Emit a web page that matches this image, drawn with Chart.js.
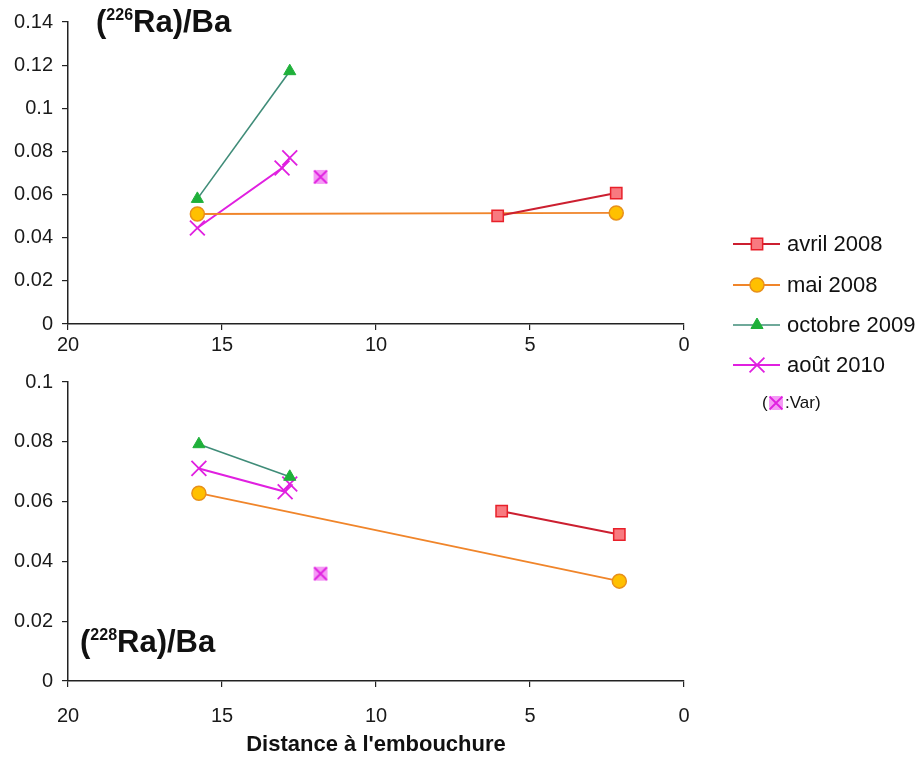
<!DOCTYPE html>
<html>
<head>
<meta charset="utf-8">
<script src="https://cdn.jsdelivr.net/npm/chart.js@4.4.1/dist/chart.umd.min.js"></script>
<style>
  body { margin: 0; background: #fff; width: 920px; height: 758px; position: relative; overflow: hidden;
         font-family: "Liberation Sans", Arial, sans-serif; }
  canvas { position: absolute; left: 0; }
  #topChart { top: 0; }
  #bottomChart { top: 360px; }
  .panel-title { position: absolute; font-weight: bold; font-size: 31px; line-height: 1; color: #111; white-space: nowrap; }
  .panel-title sup { font-size: 16px; vertical-align: top; position: relative; top: 1px; }
</style>
</head>
<body>
<canvas id="topChart" width="920" height="420"></canvas>
<canvas id="bottomChart" width="920" height="398"></canvas>
<div class="panel-title" style="left:96px; top:6px;">(<sup>226</sup>Ra)/Ba</div>
<div class="panel-title" style="left:80px; top:626px;">(<sup>228</sup>Ra)/Ba</div>
<script>
// series labels
const seriesLabels = ['avril 2008', 'mai 2008', 'octobre 2009', 'août 2010'];

// (226Ra)/Ba  -- distance to the mouth (km) and ratio
const ra226AvrilDist = [6.05, 2.2];
const ra226Avril = [0.0501, 0.0607];
const ra226MaiDist = [15.8, 2.2];
const ra226Mai = [0.051, 0.0515];
const ra226OctDist = [15.8, 12.8];
const ra226Oct = [0.058, 0.1172];
const ra226AoutDist = [15.8, 13.05, 12.8];
const ra226Aout = [0.0445, 0.0723, 0.077];
const ra226VarDist = [11.8];
const ra226Var = [0.0682];

// (228Ra)/Ba
const ra228AvrilDist = [5.92, 2.1];
const ra228Avril = [0.0568, 0.049];
const ra228MaiDist = [15.75, 2.1];
const ra228Mai = [0.0628, 0.0334];
const ra228OctDist = [15.75, 12.8];
const ra228Oct = [0.0792, 0.0683];
const ra228AoutDist = [15.75, 12.95, 12.8];
const ra228Aout = [0.0711, 0.0633, 0.0659];
const ra228VarDist = [11.8];
const ra228Var = [0.0359];

// axis ticks
const xTickStep = 5;
const topYMax = 0.14;
const bottomYMax = 0.1;
const yTickStep = 0.02;

const FONT = '"Liberation Sans", Arial, sans-serif';

function toPoints(xs, ys) {
  return xs.map((x, i) => ({ x, y: ys[i] }));
}

function makeVarIcon() {
  const c = document.createElement('canvas');
  c.width = 18;
  c.height = 18;
  const g = c.getContext('2d');
  g.fillStyle = '#f59af5';
  g.beginPath();
  g.roundRect(2, 2, 14, 14, 4);
  g.fill();
  g.strokeStyle = '#e020e0';
  g.lineWidth = 1.8;
  g.beginPath();
  g.moveTo(2.5, 2.5); g.lineTo(15.5, 15.5);
  g.moveTo(15.5, 2.5); g.lineTo(2.5, 15.5);
  g.stroke();
  return c;
}
const varIcon = makeVarIcon();

function buildDatasets(p) {
  return [
    {
      label: seriesLabels[0],
      data: toPoints(p.avrilDist, p.avril),
      borderColor: '#cc1f30', borderWidth: 2,
      pointStyle: 'rect', pointRadius: 8,
      pointBackgroundColor: '#f87a80', pointBorderColor: '#e8202a', pointBorderWidth: 1.5
    },
    {
      label: seriesLabels[1],
      data: toPoints(p.maiDist, p.mai),
      borderColor: '#f0852a', borderWidth: 1.8,
      pointStyle: 'circle', pointRadius: 7,
      pointBackgroundColor: '#ffc000', pointBorderColor: '#e8901a', pointBorderWidth: 1.5
    },
    {
      label: seriesLabels[2],
      data: toPoints(p.octDist, p.oct),
      borderColor: '#3f8c78', borderWidth: 1.6,
      pointStyle: 'triangle', pointRadius: 7,
      pointBackgroundColor: '#1fb03a', pointBorderColor: '#1fb03a', pointBorderWidth: 1
    },
    {
      label: seriesLabels[3],
      data: toPoints(p.aoutDist, p.aout),
      borderColor: '#e020e0', borderWidth: 2,
      pointStyle: 'crossRot', pointRadius: 10.5,
      pointBackgroundColor: '#e020e0', pointBorderColor: '#e020e0', pointBorderWidth: 1.8
    },
    {
      label: 'Var',
      data: toPoints(p.varDist, p.var),
      showLine: false,
      pointStyle: varIcon, pointRadius: 8
    }
  ];
}

const sideLegend = {
  id: 'sideLegend',
  afterDraw(chart) {
    const ctx = chart.ctx;
    const rows = [244, 285, 325, 365];
    ctx.save();
    chart.data.datasets.slice(0, 4).forEach((ds, i) => {
      const y = rows[i];
      ctx.strokeStyle = ds.borderColor;
      ctx.lineWidth = ds.borderWidth;
      ctx.beginPath();
      ctx.moveTo(733, y);
      ctx.lineTo(780, y);
      ctx.stroke();
      ctx.fillStyle = ds.pointBackgroundColor;
      ctx.strokeStyle = ds.pointBorderColor;
      ctx.lineWidth = ds.pointBorderWidth;
      Chart.helpers.drawPoint(ctx, {
        pointStyle: ds.pointStyle, radius: ds.pointRadius, rotation: 0, borderWidth: ds.pointBorderWidth
      }, 757, y);
      ctx.fillStyle = '#111';
      ctx.font = '22px ' + FONT;
      ctx.textBaseline = 'middle';
      ctx.textAlign = 'left';
      ctx.fillText(ds.label, 787, y + 1);
    });
    ctx.font = '17px ' + FONT;
    ctx.fillStyle = '#111';
    ctx.textBaseline = 'middle';
    ctx.fillText('(', 762, 403);
    ctx.drawImage(varIcon, 767, 394);
    ctx.fillText(':Var)', 785, 403);
    ctx.restore();
  }
};

function createPanel(canvasId, datasets, opts) {
  return new Chart(document.getElementById(canvasId), {
    type: 'scatter',
    data: { datasets },
    options: {
      responsive: false,
      animation: false,
      showLine: true,
      layout: { padding: opts.padding },
      plugins: { legend: { display: false }, tooltip: { enabled: false } },
      scales: {
        x: {
          type: 'linear', reverse: true, min: 0, max: 20,
          ticks: { stepSize: xTickStep, color: '#1a1a1a', font: { family: FONT, size: 20 }, padding: opts.xTickPad },
          grid: { drawOnChartArea: false, drawTicks: true, tickLength: 6, color: '#222', lineWidth: 1.2 },
          border: { display: true, color: '#222', width: 1.5 },
          title: opts.xTitle
            ? { display: true, text: opts.xTitle, color: '#111', font: { family: FONT, size: 22, weight: 'bold' }, padding: 0 }
            : { display: false },
          afterFit(scale) { scale.height = opts.xHeight; }
        },
        y: {
          min: 0, max: opts.yMax,
          ticks: {
            stepSize: yTickStep, color: '#1a1a1a', font: { family: FONT, size: 20 }, padding: 9,
            callback: (v) => String(+Number(v).toFixed(2))
          },
          grid: { drawOnChartArea: false, drawTicks: true, tickLength: 6, color: '#222', lineWidth: 1.2 },
          border: { display: true, color: '#222', width: 1.5 },
          afterFit(scale) { scale.width = 68; }
        }
      }
    },
    plugins: opts.plugins || []
  });
}

createPanel('topChart', buildDatasets({
  avrilDist: ra226AvrilDist, avril: ra226Avril,
  maiDist: ra226MaiDist, mai: ra226Mai,
  octDist: ra226OctDist, oct: ra226Oct,
  aoutDist: ra226AoutDist, aout: ra226Aout,
  varDist: ra226VarDist, var: ra226Var
}), {
  yMax: topYMax,
  padding: { left: 0, top: 22, right: 236, bottom: 60 },
  xHeight: 36, xTickPad: 3,
  plugins: [sideLegend]
});

createPanel('bottomChart', buildDatasets({
  avrilDist: ra228AvrilDist, avril: ra228Avril,
  maiDist: ra228MaiDist, mai: ra228Mai,
  octDist: ra228OctDist, oct: ra228Oct,
  aoutDist: ra228AoutDist, aout: ra228Aout,
  varDist: ra228VarDist, var: ra228Var
}), {
  yMax: bottomYMax,
  padding: { left: 0, top: 22, right: 236, bottom: 0 },
  xHeight: 77, xTickPad: 17, xTitle: "Distance à l'embouchure"
});
</script>
</body>
</html>
